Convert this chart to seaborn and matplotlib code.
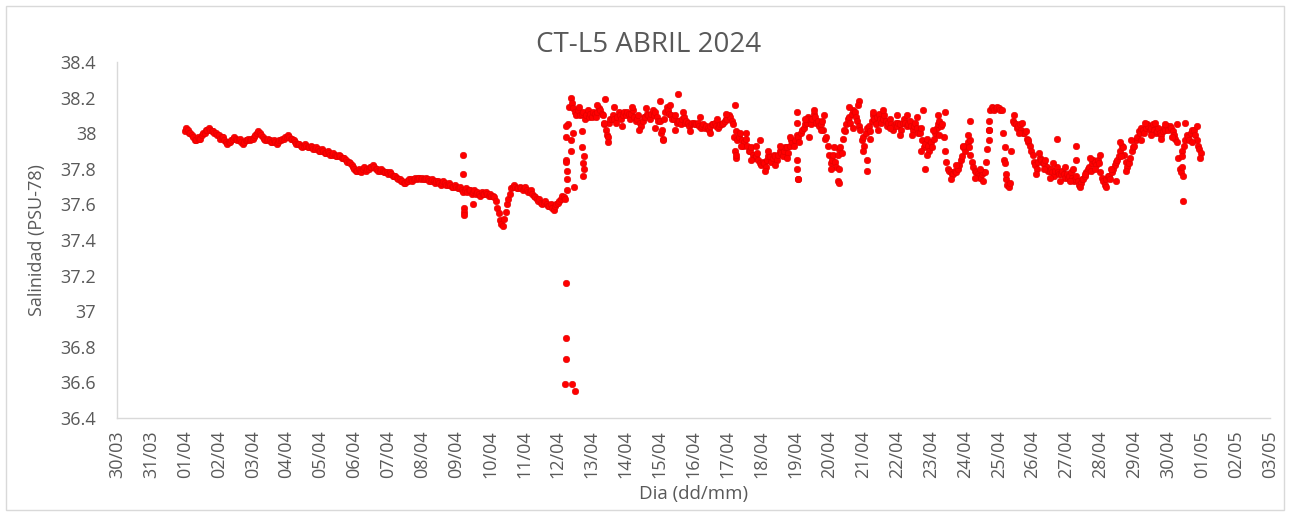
import numpy as np
import pandas as pd
import matplotlib
matplotlib.use("Agg")
import matplotlib.pyplot as plt
import matplotlib.dates as mdates
from matplotlib.ticker import FuncFormatter
import seaborn as sns

# ---------------- data (hourly salinity readings, PSU-78) ----------------
start_date = "2024-04-01"
axis_start = "2024-03-30"
axis_end = "2024-05-03"

apr01 = [38.01, 38.03, 38.02, 38.00, 38.00, 37.99, 37.98, 37.96, 37.96, 37.98, 37.97, 37.97,
         37.99, 38.00, 38.00, 38.02, 38.02, 38.03, 38.02, 38.01, 38.01, 38.00, 38.00, 37.99]
apr02 = [37.99, 37.97, 37.98, 37.98, 37.96, 37.95, 37.94, 37.95, 37.95, 37.96, 37.97, 37.98,
         37.97, 37.96, 37.96, 37.97, 37.95, 37.94, 37.95, 37.96, 37.96, 37.97, 37.96, 37.97]
apr03 = [37.97, 37.98, 37.99, 38.00, 38.01, 38.00, 37.99, 37.98, 37.97, 37.96, 37.96, 37.97,
         37.96, 37.95, 37.95, 37.96, 37.95, 37.94, 37.95, 37.96, 37.96, 37.97, 37.97, 37.98]
apr04 = [37.98, 37.99, 37.98, 37.97, 37.97, 37.96, 37.95, 37.94, 37.94, 37.94, 37.93, 37.92,
         37.93, 37.94, 37.93, 37.92, 37.92, 37.93, 37.92, 37.91, 37.91, 37.92, 37.91, 37.90]
apr05 = [37.90, 37.91, 37.90, 37.89, 37.89, 37.90, 37.89, 37.88, 37.88, 37.89, 37.88, 37.87,
         37.87, 37.88, 37.87, 37.86, 37.86, 37.86, 37.85, 37.84, 37.84, 37.83, 37.82, 37.81]
apr06 = [37.80, 37.79, 37.79, 37.80, 37.79, 37.78, 37.80, 37.81, 37.79, 37.80, 37.80, 37.81,
         37.81, 37.82, 37.81, 37.80, 37.80, 37.79, 37.79, 37.80, 37.79, 37.78, 37.78, 37.78]
apr07 = [37.77, 37.78, 37.77, 37.76, 37.76, 37.76, 37.75, 37.74, 37.74, 37.73, 37.73, 37.72,
         37.72, 37.73, 37.73, 37.74, 37.74, 37.73, 37.74, 37.75, 37.74, 37.75, 37.75, 37.74]
apr08 = [37.75, 37.74, 37.74, 37.75, 37.74, 37.73, 37.73, 37.74, 37.73, 37.72, 37.73, 37.73,
         37.72, 37.71, 37.72, 37.73, 37.72, 37.71, 37.71, 37.72, 37.71, 37.70, 37.70, 37.71]
apr09 = [37.70, 37.69, 37.69, 37.70, 37.68, 37.67, 37.68, 37.69, 37.67, 37.68, 37.68, 37.66,
         37.67, 37.68, 37.66, 37.67, 37.66, 37.65, 37.67, 37.66, 37.66, 37.67, 37.66, 37.65]
apr10 = [37.66, 37.65, 37.65, 37.64, 37.62, 37.58, 37.55, 37.51, 37.49, 37.48, 37.52, 37.56,
         37.60, 37.63, 37.66, 37.69, 37.70, 37.71, 37.70, 37.69, 37.69, 37.70, 37.69, 37.68]
apr11 = [37.69, 37.70, 37.68, 37.67, 37.67, 37.68, 37.66, 37.65, 37.64, 37.63, 37.62, 37.63,
         37.61, 37.60, 37.61, 37.62, 37.60, 37.59, 37.59, 37.60, 37.58, 37.57, 37.59, 37.60]
apr12 = [37.61, 37.62, 37.63, 37.65, 37.64, 37.63, 37.85, 38.05, 38.15, 38.20, 38.17, 38.14,
         38.12, 38.10, 38.13, 38.15, 38.10, 38.11, 38.12, 38.08, 38.10, 38.13, 38.09, 38.11]
apr13 = [38.09, 38.12, 38.11, 38.09, 38.12, 38.14, 38.13, 38.11, 38.10, 38.05, 38.02, 37.99,
         38.06, 38.08, 38.08, 38.10, 38.08, 38.06, 38.09, 38.12, 38.10, 38.08, 38.10, 38.12]
apr14 = [38.10, 38.12, 38.11, 38.08, 38.11, 38.13, 38.09, 38.07, 38.08, 38.10, 38.06, 38.04,
         38.07, 38.09, 38.09, 38.11, 38.10, 38.08, 38.11, 38.13, 38.10, 38.12, 38.09, 38.07]
apr15 = [38.07, 38.00, 38.02, 38.08, 38.12, 38.15, 38.13, 38.11, 38.10, 38.08, 38.08, 38.10,
         38.06, 38.07, 38.07, 38.05, 38.08, 38.09, 38.06, 38.07, 38.06, 38.04, 38.05, 38.06]
apr16 = [38.06, 38.05, 38.05, 38.06, 38.04, 38.03, 38.04, 38.05, 38.03, 38.04, 38.03, 38.02,
         38.04, 38.05, 38.05, 38.06, 38.04, 38.03, 38.04, 38.05, 38.05, 38.06, 38.07, 38.08]
apr17 = [38.08, 38.10, 38.09, 38.07, 38.05, 37.98, 38.01, 37.96, 37.98, 38.00, 37.96, 37.93,
         37.95, 37.97, 37.93, 37.90, 37.90, 37.92, 37.88, 37.86, 37.87, 37.89, 37.85, 37.83]
apr18 = [37.82, 37.84, 37.83, 37.81, 37.85, 37.87, 37.87, 37.84, 37.86, 37.88, 37.87, 37.85,
         37.88, 37.90, 37.89, 37.87, 37.90, 37.92, 37.92, 37.89, 37.93, 37.96, 37.95, 37.93]
apr19 = [37.96, 37.99, 37.98, 37.95, 38.00, 38.02, 38.03, 38.05, 38.06, 38.09, 38.08, 38.05,
         38.08, 38.11, 38.09, 38.06, 38.07, 38.04, 38.05, 38.07, 38.02, 37.97, 37.98, 37.93]
apr20 = [37.88, 37.83, 37.85, 37.88, 37.84, 37.81, 37.88, 37.91, 37.92, 37.89, 37.97, 38.01,
         38.05, 38.08, 38.09, 38.06, 38.11, 38.13, 38.12, 38.09, 38.07, 38.04, 38.02, 37.96]
apr21 = [37.98, 37.93, 38.00, 38.03, 38.04, 38.01, 38.07, 38.10, 38.08, 38.05, 38.09, 38.11,
         38.08, 38.06, 38.08, 38.10, 38.07, 38.04, 38.06, 38.08, 38.05, 38.02, 38.04, 38.06]
apr22 = [38.04, 38.06, 38.05, 38.02, 38.06, 38.08, 38.06, 38.04, 38.05, 38.07, 38.04, 38.02,
         38.04, 38.06, 38.03, 38.00, 38.00, 38.03, 37.96, 37.92, 37.94, 37.97, 37.93, 37.90]
apr23 = [37.95, 37.92, 37.97, 38.00, 38.03, 38.05, 38.07, 38.04, 38.05, 37.98, 37.90, 37.84,
         37.80, 37.79, 37.78, 37.77, 37.77, 37.79, 37.78, 37.80, 37.82, 37.85, 37.87, 37.92]
apr24 = [37.90, 37.93, 37.95, 37.92, 37.88, 37.84, 37.81, 37.79, 37.78, 37.77, 37.76, 37.75,
         37.77, 37.78, 37.78, 37.84, 37.91, 38.02, 38.13, 38.15, 38.14, 38.13, 38.14, 38.15]
apr25 = [38.14, 38.13, 38.13, 38.00, 37.85, 37.74, 37.71, 37.70, 37.72, 37.90, 38.07, 38.06,
         38.05, 38.03, 38.04, 38.05, 38.02, 38.00, 38.00, 38.01, 37.97, 37.95, 37.93, 37.90]
apr26 = [37.88, 37.84, 37.82, 37.80, 37.84, 37.86, 37.85, 37.83, 37.83, 37.85, 37.81, 37.79,
         37.79, 37.80, 37.78, 37.76, 37.79, 37.81, 37.78, 37.77, 37.77, 37.79, 37.77, 37.75]
apr27 = [37.77, 37.75, 37.76, 37.78, 37.75, 37.73, 37.74, 37.76, 37.73, 37.71, 37.72, 37.74,
         37.74, 37.76, 37.78, 37.80, 37.81, 37.79, 37.83, 37.85, 37.84, 37.82, 37.85, 37.83]
apr28 = [37.78, 37.75, 37.73, 37.71, 37.74, 37.76, 37.76, 37.74, 37.78, 37.80, 37.82, 37.84,
         37.85, 37.87, 37.90, 37.93, 37.92, 37.88, 37.84, 37.81, 37.83, 37.86, 37.90, 37.92]
apr29 = [37.93, 37.96, 37.98, 38.01, 38.00, 38.03, 38.02, 38.00, 38.03, 38.05, 38.04, 38.02,
         38.03, 38.05, 38.02, 38.00, 38.01, 38.03, 38.00, 37.99, 38.01, 38.03, 38.02, 38.04]
apr30 = [38.02, 38.04, 38.03, 38.01, 37.99, 37.97, 37.95, 37.86, 37.80, 37.78, 37.90, 37.93,
         37.96, 37.99, 37.98, 37.96, 38.00, 38.02, 38.02, 37.99, 37.96, 37.93, 37.91, 37.89]

# isolated / spike readings: time in days after 01/04 00:00, and value
extra_t = [8.20, 8.20, 8.22, 8.23, 8.24, 8.50,
           11.24, 11.24, 11.25, 11.26, 11.26, 11.27, 11.38, 11.40, 11.45, 11.49,
           11.72, 11.72, 11.73, 11.74, 11.76, 11.77,
           11.24, 11.24, 11.24, 11.22, 11.41, 11.50,
           12.40, 12.48, 12.49, 14.00, 14.10, 14.11, 14.54,
           16.22, 16.23, 16.24, 16.25, 16.96,
           18.04, 18.04, 18.05, 18.06, 18.07, 18.09,
           19.27, 19.28, 19.89, 20.11, 20.12, 21.78, 21.83, 22.42,
           23.16, 23.15, 23.70, 23.71, 23.72,
           24.19, 24.20, 24.21, 25.71, 26.27, 26.28, 27.58,
           29.40, 29.41, 29.42, 29.43, 29.50]
extra_v = [37.88, 37.77, 37.58, 37.56, 37.54, 37.60,
           38.04, 37.98, 37.84, 37.79, 37.74, 37.68, 37.90, 37.96, 38.00, 37.70,
           38.01, 37.92, 37.83, 37.76, 37.87, 37.80,
           37.16, 36.85, 36.73, 36.59, 36.59, 36.55,
           38.19, 37.98, 37.95, 38.18, 37.97, 37.96, 38.22,
           38.16, 37.90, 37.86, 37.88, 37.96,
           38.12, 38.06, 37.85, 37.80, 37.74, 37.74,
           37.73, 37.72, 38.18, 37.85, 37.79, 38.13, 37.80, 38.12,
           38.07, 37.96, 38.07, 38.02, 37.96,
           37.92, 37.83, 37.77, 37.97, 37.93, 37.85, 37.95,
           37.87, 37.81, 37.76, 37.62, 38.06]

# spread of the readings around the main trace (second half of the month)
spread_t = [12.15, 12.35, 12.65, 12.90, 13.20, 13.40, 13.60, 13.85, 14.30, 14.45, 14.70, 14.90,
            15.20, 15.50, 15.70, 15.95, 16.40, 16.55, 16.70, 16.85, 17.10, 17.20, 17.40, 17.55,
            17.75, 17.85, 18.30, 18.40, 18.55, 18.75, 18.85, 19.05, 19.15, 19.30, 19.45, 19.60,
            19.70, 19.85, 20.00, 20.20, 20.30, 20.45, 20.60, 20.80, 21.00, 21.10, 21.30, 21.45,
            21.60, 21.70, 21.90, 22.05, 22.20, 22.25, 22.60, 22.75, 22.95, 23.10, 23.30, 23.45,
            23.55, 24.45, 24.60, 24.70, 24.85, 25.10, 25.20, 25.35, 25.50, 25.60, 25.80, 25.95,
            26.10, 26.20, 26.40, 26.55, 26.70, 26.85, 27.00, 27.15, 27.30, 27.45, 27.60, 27.75,
            27.90, 28.20, 28.30, 28.50, 28.60, 28.80, 28.90, 29.10, 29.25, 29.70, 29.85, 29.95]
spread_v = [38.16, 38.06, 38.15, 38.04, 38.15, 38.02, 38.14, 38.03, 38.16, 38.02, 38.12, 38.01,
            38.09, 38.00, 38.08, 38.11, 37.93, 38.00, 37.85, 37.93, 37.79, 37.90, 37.82, 37.93,
            37.86, 37.98, 38.08, 37.98, 38.13, 38.02, 38.10, 37.80, 37.92, 37.80, 38.02, 38.15,
            38.03, 38.16, 37.90, 37.97, 38.12, 38.02, 38.13, 38.03, 38.10, 37.99, 38.10, 37.99,
            38.09, 37.90, 37.88, 38.02, 38.10, 37.99, 37.74, 37.82, 37.93, 37.99, 37.75, 37.80,
            37.73, 38.10, 38.00, 38.06, 37.96, 37.77, 37.89, 37.80, 37.75, 37.83, 37.73, 37.81,
            37.73, 37.80, 37.70, 37.77, 37.86, 37.80, 37.88, 37.70, 37.80, 37.73, 37.87, 37.79,
            37.96, 37.96, 38.06, 37.99, 38.06, 37.97, 38.05, 37.98, 38.05, 37.95, 38.04, 37.86]

y_ticks = [36.4, 36.6, 36.8, 37.0, 37.2, 37.4, 37.6, 37.8, 38.0, 38.2, 38.4]

title_text = "CT-L5 ABRIL 2024"
x_label = "Dia (dd/mm)"
y_label = "Salinidad (PSU-78)"

# ---------------- assemble ----------------
days = [apr01, apr02, apr03, apr04, apr05, apr06, apr07, apr08, apr09, apr10,
        apr11, apr12, apr13, apr14, apr15, apr16, apr17, apr18, apr19, apr20,
        apr21, apr22, apr23, apr24, apr25, apr26, apr27, apr28, apr29, apr30]
t0 = pd.Timestamp(start_date)
rows = []
for di, vals in enumerate(days):
    for k, v in enumerate(vals):
        rows.append((t0 + pd.to_timedelta(di + k / len(vals), unit="D"), v))
for t, v in zip(extra_t + spread_t, extra_v + spread_v):
    rows.append((t0 + pd.to_timedelta(t, unit="D"), v))
df = pd.DataFrame(rows, columns=["fecha", "salinidad"])

# ---------------- plot ----------------
sns.set_theme(style="white")
plt.rcParams["font.family"] = ["Open Sans", "DejaVu Sans"]
text_col = "#595959"

fig = plt.figure(figsize=(12.9, 5.16), dpi=100)
ax = fig.add_axes([117 / 1290, 1 - 418 / 516, (1270 - 117) / 1290, (418 - 62) / 516])

sns.scatterplot(data=df, x="fecha", y="salinidad", ax=ax, color="#FF0000",
                s=22, edgecolor="#E00000", linewidth=0.4, legend=False, zorder=3)

ax.set_xlim(pd.Timestamp(axis_start), pd.Timestamp(axis_end))
ax.set_ylim(y_ticks[0], y_ticks[-1])
ax.set_yticks(y_ticks)
ax.yaxis.set_major_formatter(FuncFormatter(lambda v, p: f"{v:g}"))
ax.xaxis.set_major_locator(mdates.DayLocator())
ax.xaxis.set_major_formatter(mdates.DateFormatter("%d/%m"))
plt.setp(ax.get_xticklabels(), rotation=90)
ax.tick_params(axis="both", length=0, colors=text_col, labelsize=13)
ax.tick_params(axis="y", pad=15)
ax.tick_params(axis="x", pad=9)

for side in ["top", "right"]:
    ax.spines[side].set_visible(False)
for side in ["left", "bottom"]:
    ax.spines[side].set_color("#D9D9D9")
    ax.spines[side].set_linewidth(1.0)
ax.grid(False)

ax.set_xlabel(x_label, color=text_col, fontsize=13.5, labelpad=5)
ax.set_ylabel(y_label, color=text_col, fontsize=13, labelpad=10)
fig.text(0.5025, 1 - 45 / 516, title_text, ha="center", va="center",
         color=text_col, fontsize=20)

# chart-area border
fig.patches.append(plt.Rectangle((6 / 1290, 6 / 516), 1 - 12 / 1290, 1 - 12 / 516,
                                 transform=fig.transFigure, fill=False,
                                 edgecolor="#D9D9D9", linewidth=1.0))

fig.savefig("out.png", dpi=100, facecolor="white")
